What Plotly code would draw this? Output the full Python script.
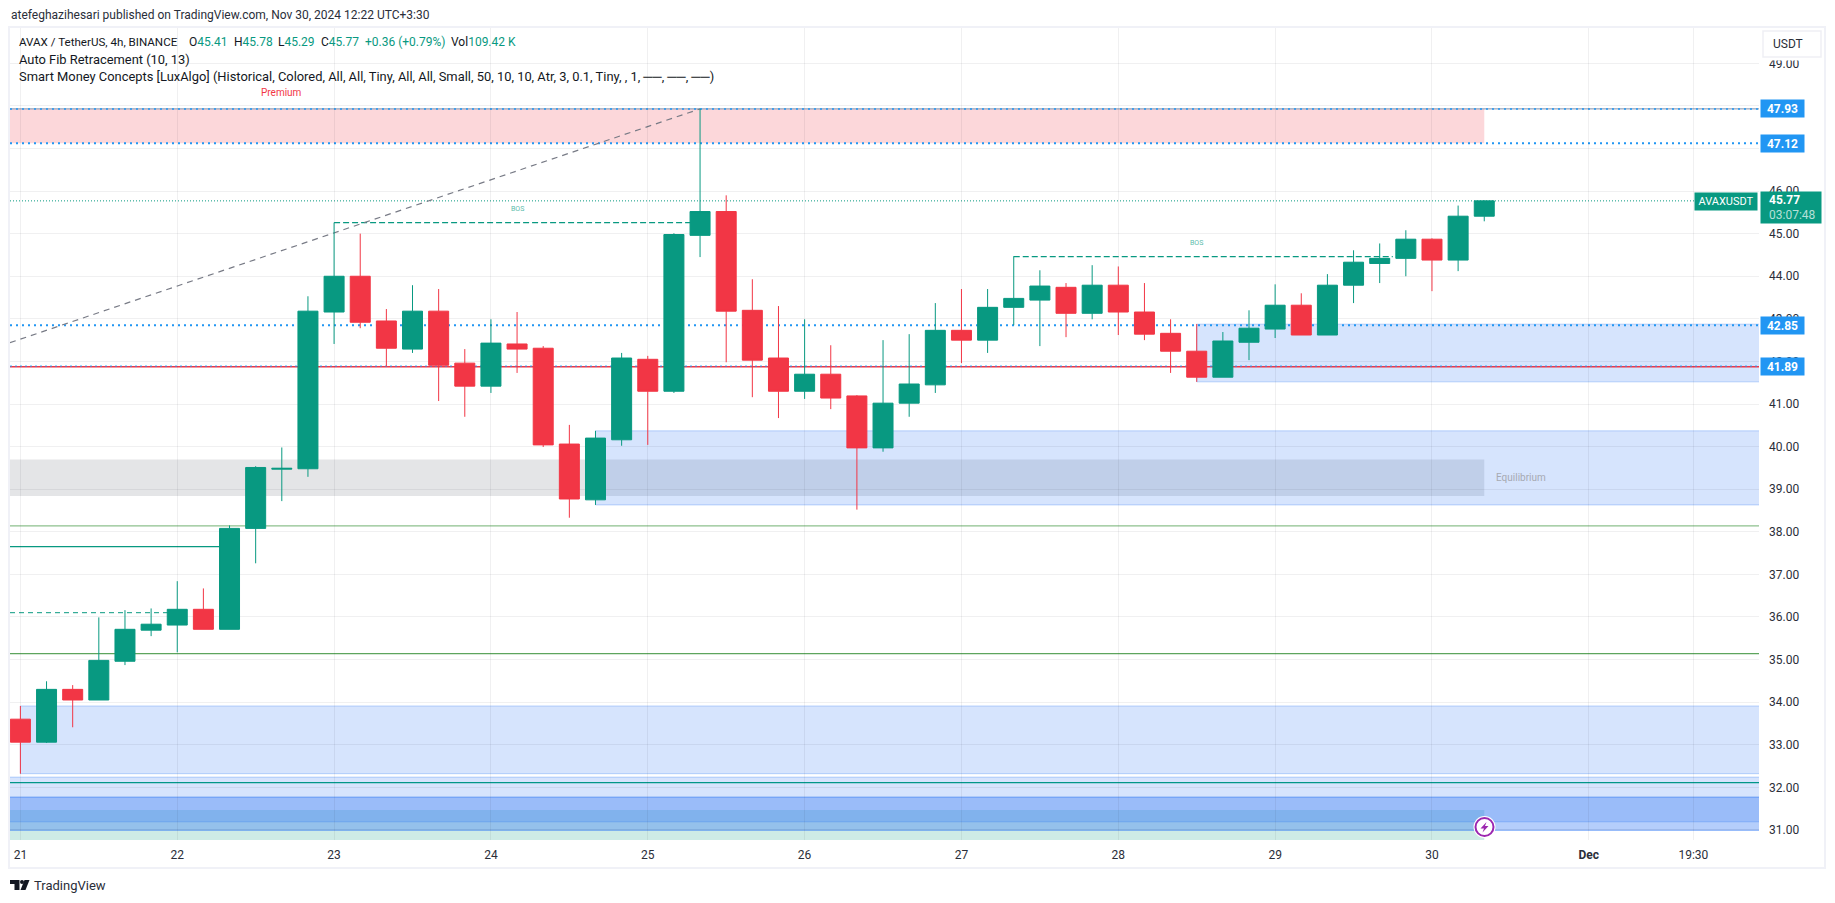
import plotly.graph_objects as go

# ---------- data ----------
bar_index = list(range(57))
opens = [33.60, 33.06, 34.30, 34.05, 34.96, 35.69, 35.81, 36.18, 35.71, 38.08,
         39.47, 39.48, 43.16, 44.00, 42.95, 42.29, 43.18, 41.96, 41.42, 42.41,
         42.31, 40.06, 38.75, 40.16, 42.05, 41.30, 44.96, 45.52, 43.20, 42.08,
         41.30, 41.70, 41.19, 39.97, 41.02, 41.45, 42.73, 42.50, 43.27, 43.44,
         43.74, 43.13, 43.79, 43.16, 42.66, 42.24, 41.63, 42.45, 42.76, 43.32,
         42.62, 43.79, 44.30, 44.42, 44.87, 44.38, 45.41]
highs = [33.91, 34.49, 34.40, 35.99, 36.16, 36.20, 36.84, 36.67, 38.15, 39.54,
         39.98, 43.53, 45.26, 45.00, 43.23, 43.79, 43.70, 42.29, 42.99, 43.16,
         42.36, 40.51, 40.37, 42.20, 42.13, 45.01, 47.93, 45.90, 43.93, 43.30,
         42.99, 42.38, 41.21, 42.50, 42.64, 43.37, 43.70, 43.70, 44.47, 44.14,
         43.84, 44.26, 44.23, 43.84, 42.99, 42.88, 42.69, 43.20, 43.81, 43.60,
         44.05, 44.61, 44.77, 45.08, 44.89, 45.66, 45.78]
lows = [32.32, 33.04, 33.41, 34.05, 34.87, 35.55, 35.17, 35.71, 35.71, 37.26,
        38.72, 39.29, 42.41, 42.78, 41.89, 42.20, 41.07, 40.70, 41.26, 41.73,
        39.99, 38.33, 38.63, 40.02, 40.04, 41.26, 44.45, 41.98, 41.16, 40.67,
        41.12, 40.88, 38.52, 39.88, 40.70, 41.26, 41.96, 42.20, 42.85, 42.36,
        42.57, 42.99, 42.62, 42.50, 41.73, 41.52, 41.63, 42.03, 42.55, 42.62,
        42.62, 43.37, 43.84, 44.00, 43.65, 44.12, 45.29]
closes = [33.06, 34.30, 34.05, 34.98, 35.71, 35.83, 36.18, 35.71, 38.08, 39.51,
          39.49, 43.18, 44.00, 42.92, 42.31, 43.18, 41.91, 41.42, 42.43, 42.29,
          40.04, 38.77, 40.20, 42.08, 41.30, 44.98, 45.52, 43.18, 42.03, 41.30,
          41.70, 41.14, 39.97, 41.02, 41.47, 42.73, 42.50, 43.27, 43.48, 43.77,
          43.13, 43.79, 43.16, 42.64, 42.24, 41.63, 42.48, 42.78, 43.32, 42.62,
          43.79, 44.33, 44.42, 44.87, 44.38, 45.41, 45.77]

x_tick_vals = [0, 6, 12, 18, 24, 30, 36, 42, 48, 54, 60, 64]
x_tick_text = ["21", "22", "23", "24", "25", "26", "27", "28", "29", "30",
               "<b>Dec</b>", "19:30"]
y_tick_vals = list(range(31, 50))
y_tick_text = ["" if v in (47, 48) else f"{v}.00" for v in y_tick_vals]

last_bar = 56
premium_zone = [47.12, 47.93]
equilibrium_zone = [38.84, 39.70]
discount_zone = [30.50, 31.47]
order_blocks = [(0, 32.32, 33.91), (22, 38.63, 40.37), (45, 41.52, 42.875)]
left_blocks = [(31.19, 32.24), (30.99, 31.77), (30.99, 31.77)]
fib_levels = [47.93, 47.12, 42.85, 41.89]
last_price = 45.77
red_level = 41.875
green_levels = [(38.14, "#8dc08d"), (35.14, "#5da55d"), (32.11, "#009688")]
choch_solid = (8, 37.65)
choch_dashed = (6, 36.10)
bos_lines = [(12, 26, 45.26), (38, 52.5, 44.46)]
bos_labels = [(19, 45.57), (45, 44.77)]
fib_diagonal = [(-0.398, 42.44), (26, 47.93)]
legend_line_1 = [(18, "AVAX / TetherUS, 4h, BINANCE", None, 11.6), (188, "O", "45.41", 12),
                 (232.7, "H", "45.78", 12), (277.3, "L", "45.29", 12), (320, "C", "45.77", 12),
                 (364, "", "+0.36 (+0.79%)", 12), (450, "Vol", "109.42 K", 12)]

UP, DOWN, BLUE = "#089981", "#f23645", "#2196f3"
FONT = "Roboto"
X0, X1 = -0.398, 66.51
Y0, Y1 = 30.763, 49.829
W, H = 1835, 903
L, R, T, B = 10, 1759, 28, 840


def px(x):
    return (x - L) / (R - L)


def py(y):
    return (B - y) / (B - T)


fig = go.Figure(go.Candlestick(
    x=bar_index, open=opens, high=highs, low=lows, close=closes,
    increasing=dict(line=dict(color=UP, width=1), fillcolor=UP),
    decreasing=dict(line=dict(color=DOWN, width=1), fillcolor=DOWN),
    whiskerwidth=0, hoverinfo="skip", showlegend=False))

shapes = []


def zone(x0, x1, y0, y1, fill, line=None):
    shapes.append(dict(type="rect", xref="x", yref="y", x0=x0, x1=x1, y0=y0, y1=y1,
                       fillcolor=fill, layer="below",
                       line=dict(width=1 if line else 0, color=line or "rgba(0,0,0,0)")))


def hline(x0, x1, y, color, width=1, dash="solid"):
    shapes.append(dict(type="line", xref="x", yref="y", x0=x0, x1=x1, y0=y, y1=y,
                       layer="below", line=dict(color=color, width=width, dash=dash)))


ZONE = "rgba(49,121,245,0.2)"
BORDER = "rgba(49,121,245,0.3)"
zone(X0, last_bar, *premium_zone, "rgba(242,54,69,0.2)")
zone(X0, last_bar, *equilibrium_zone, "rgba(120,123,134,0.2)")
zone(X0, last_bar, *discount_zone, "rgba(8,153,129,0.2)")
for start, lo, hi in order_blocks:
    zone(start, X1 + 1, lo, hi, ZONE, BORDER)
for lo, hi in left_blocks:
    zone(X0 - 1, X1 + 1, lo, hi, ZONE, BORDER)
for y, color in green_levels:
    hline(X0, X1, y, color, 1.2)
hline(X0, X1, red_level, DOWN, 1.5)
hline(X0, X1, fib_levels[0], "#7f8ea8", 1)
for y in fib_levels[:3]:
    hline(X0, X1, y, BLUE, 2 if y != fib_levels[0] else 1.5, "2px,4px")
hline(X0, X1, fib_levels[3], BLUE, 1, "2px,3px")
hline(X0, X1, last_price, UP, 1, "1px,2px")
hline(X0, choch_solid[0], choch_solid[1], UP, 1.2)
hline(X0, choch_dashed[0], choch_dashed[1], UP, 1, "5px,4px")
for x0, x1, y in bos_lines:
    hline(x0, x1, y, UP, 1.2, "6px,3px")
shapes.append(dict(type="line", xref="x", yref="y", layer="below",
                   x0=fib_diagonal[0][0], y0=fib_diagonal[0][1],
                   x1=fib_diagonal[1][0], y1=fib_diagonal[1][1],
                   line=dict(color="#787b86", width=1.2, dash="6px,5px")))


def frame_path(points):
    return "M" + "L".join(f"{px(a):.5f},{py(b):.5f}" for a, b in points) + "Z"


# chart frame
shapes.append(dict(type="rect", xref="paper", yref="paper", x0=px(9), x1=px(1825),
                   y0=py(868), y1=py(27), layer="above", line=dict(color="#f0f1f7", width=2)))
# USDT scale button, with the white margin that clips the 49.00 label
shapes.append(dict(type="rect", xref="paper", yref="paper", x0=px(1762), x1=px(1822),
                   y0=py(60.5), y1=py(30), layer="above", fillcolor="white",
                   line=dict(color="white", width=0)))
shapes.append(dict(type="rect", xref="paper", yref="paper", x0=px(1763), x1=px(1821),
                   y0=py(57), y1=py(31), layer="above", fillcolor="white",
                   line=dict(color="#eff0f5", width=1.5)))
# lightning marker
shapes.append(dict(type="circle", xref="paper", yref="paper", x0=px(1473.5), x1=px(1495.5),
                   y0=py(838), y1=py(816), layer="above", fillcolor="white",
                   line=dict(width=0, color="white")))
shapes.append(dict(type="circle", xref="paper", yref="paper", x0=px(1475.5), x1=px(1493.5),
                   y0=py(836), y1=py(818), layer="above", fillcolor="white",
                   line=dict(color="#9c27b0", width=2)))
shapes.append(dict(type="path", xref="paper", yref="paper", layer="above", fillcolor="#9c27b0",
                   line=dict(width=0, color="#9c27b0"),
                   path=frame_path([(1486.5, 822), (1480.5, 828.5), (1484, 828.5), (1482.5, 832.5),
                                    (1488.5, 826), (1485, 826)])))
# TradingView logo
shapes.append(dict(type="path", xref="paper", yref="paper", layer="above", fillcolor="#131722",
                   line=dict(width=0, color="#131722"),
                   path=frame_path([(10, 880), (19.5, 880), (19.5, 890), (14.5, 890), (14.5, 884), (10, 884)])))
shapes.append(dict(type="path", xref="paper", yref="paper", layer="above", fillcolor="#131722",
                   line=dict(width=0, color="#131722"),
                   path=frame_path([(24.5, 880), (29.5, 880), (25.5, 890), (20.5, 890)])))
shapes.append(dict(type="circle", xref="paper", yref="paper", x0=px(20), x1=px(24), y0=py(884), y1=py(880),
                   layer="above", fillcolor="#131722", line=dict(width=0, color="#131722")))

ann = []


def text_at(x, y, text, size=12, color="#131722", anchor="left"):
    ann.append(dict(xref="paper", yref="paper", x=px(x), y=py(y), text=text, showarrow=False,
                    xanchor=anchor, yanchor="middle", borderpad=0,
                    font=dict(family=FONT, size=size, color=color)))


def g(s):
    return f'<span style="color:{UP}">{s}</span>'


LEG = 12.9
text_at(10, 15, "atefeghazihesari published on TradingView.com, Nov 30, 2024 12:22 UTC+3:30", 12, "#2a2e39")
for x, label, value, size in legend_line_1:
    text_at(x, 42, label + (g(value) if value else ""), size)
text_at(18, 59, "Auto Fib Retracement (10, 13)", LEG)
text_at(18, 76, "Smart Money Concepts [LuxAlgo] (Historical, Colored, All, All, Tiny, All, All, Small, "
        "50, 10, 10, Atr, 3, 0.1, Tiny, , 1, ──, ──, ──)", LEG)
text_at(1772, 44, "USDT", 12, "#2a2e39")
text_at(33, 885, "TradingView", 13, "#2a2e39")

# texts tied to the data
for x, y in bos_labels:
    ann.append(dict(xref="x", yref="y", x=x, y=y, text="BOS", showarrow=False,
                    font=dict(family=FONT, size=7, color="#5cbcab")))
ann.append(dict(xref="x", yref="y", x=10, y=48.31, text="Premium", showarrow=False,
                font=dict(family=FONT, size=10, color=DOWN)))
ann.append(dict(xref="x", yref="y", x=57.4, y=39.27, text="Equilibrium", showarrow=False,
                font=dict(family=FONT, size=10, color="#a6a9b2")))

# price labels
for y in fib_levels:
    ann.append(dict(xref="paper", yref="y", x=1, y=y, xshift=1, text=f"<b>{y:.2f}</b>", showarrow=False,
                    xanchor="left", yanchor="middle", width=43, height=17, bgcolor=BLUE, borderpad=0,
                    align="center", valign="middle", font=dict(family=FONT, size=12, color="white")))
ann.append(dict(xref="paper", yref="y", x=1, y=last_price, xshift=1, yshift=-6.5, text=" ",
                showarrow=False, xanchor="left", yanchor="middle", width=60, height=31, bgcolor=UP,
                borderpad=0, font=dict(family=FONT, size=12, color="white")))
text_at(1768, 200.5, f"<b>{last_price:.2f}</b>", 12, "white")
text_at(1768, 215, "03:07:48", 12, "#b5e0d8")
ann.append(dict(xref="paper", yref="y", x=1, y=last_price, xshift=-1, yshift=-0.5, text="AVAXUSDT",
                showarrow=False, xanchor="right", yanchor="middle", width=62, height=17, bgcolor=UP,
                borderpad=0, align="center", valign="middle",
                font=dict(family=FONT, size=11, color="white")))

GRID = "rgba(42,46,57,0.07)"
fig.update_layout(
    width=W, height=H, autosize=False,
    margin=dict(l=L, r=W - R, t=T, b=H - B, pad=0),
    paper_bgcolor="white", plot_bgcolor="white",
    showlegend=False, boxgap=0.235, boxgroupgap=0, hovermode=False,
    font=dict(family=FONT, size=12, color="#2a2e39"),
    xaxis=dict(type="linear", range=[X0, X1], rangeslider=dict(visible=False),
               tickmode="array", tickvals=x_tick_vals, ticktext=x_tick_text,
               showgrid=True, gridcolor=GRID, gridwidth=1, zeroline=False, showline=False,
               ticks="", ticklabelstandoff=6, tickfont=dict(family=FONT, size=12, color="#2a2e39")),
    yaxis=dict(range=[Y0, Y1], side="right", tickmode="array", tickvals=y_tick_vals,
               ticktext=y_tick_text, showgrid=True, gridcolor=GRID, gridwidth=1, zeroline=False,
               showline=False, ticks="", ticklabelstandoff=9,
               tickfont=dict(family=FONT, size=12, color="#2a2e39")),
    shapes=shapes, annotations=ann)

fig.write_html("out.html", config=dict(displayModeBar=False),
               post_script="document.body.style.margin='0';document.body.style.overflow='hidden';")
